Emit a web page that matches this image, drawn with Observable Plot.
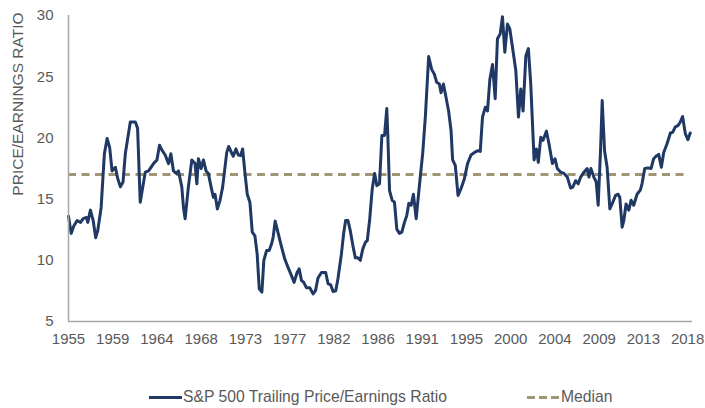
<!DOCTYPE html>
<html>
<head>
<meta charset="utf-8">
<script src="https://cdn.jsdelivr.net/npm/d3@7"></script>
<script src="https://cdn.jsdelivr.net/npm/@observablehq/plot@0.6"></script>
<style>
  html, body { margin: 0; padding: 0; background: #fff; }
  #wrap { position: relative; width: 705px; height: 408px; font-family: "Liberation Sans", Arial, sans-serif; color: #595959; }
  #legend { position: absolute; left: 0; top: 386px; width: 705px; height: 22px; font-size: 15.7px; }
  .item { position: absolute; top: 0; display: flex; align-items: center; height: 22px; }
  .sw { width: 33px; height: 3px; margin-right: 1px; }
</style>
</head>
<body>
<div id="wrap">
  <div id="chart"></div>
  <div id="legend">
    <div class="item" style="left:149px"><svg class="sw" width="33" height="3"><line x1="0" y1="1.5" x2="33" y2="1.5" stroke="#1F3864" stroke-width="3"/></svg><span>S&amp;P 500 Trailing Price/Earnings Ratio</span></div>
    <div class="item" style="left:527px"><svg class="sw" width="33" height="3"><line x1="0" y1="1.5" x2="33" y2="1.5" stroke="#A09574" stroke-width="3" stroke-dasharray="8,4"/></svg><span>Median</span></div>
  </div>
</div>
<script>
const years = [1955.0,1955.27,1955.54,1955.88,1956.22,1956.49,1956.83,1956.96,1957.23,1957.51,1957.77,1957.97,1958.32,1958.65,1958.93,1959.19,1959.43,1959.77,1960.0,1960.28,1960.55,1960.78,1961.29,1961.8,1962.03,1962.3,1962.58,1962.81,1963.15,1963.65,1964.0,1964.26,1964.51,1964.84,1965.18,1965.42,1965.68,1965.96,1966.19,1966.53,1966.7,1966.87,1967.2,1967.55,1967.88,1968.06,1968.22,1968.49,1968.73,1969.0,1969.23,1969.51,1969.74,1969.91,1970.15,1970.42,1970.69,1971.1,1971.3,1971.61,1971.77,1972.04,1972.28,1972.52,1972.72,1972.96,1973.19,1973.46,1973.7,1973.97,1974.2,1974.41,1974.68,1974.88,1975.16,1975.42,1975.67,1975.83,1976.03,1976.34,1976.68,1977.01,1977.35,1977.69,1977.96,1978.26,1978.47,1978.71,1978.94,1979.22,1979.55,1979.89,1980.13,1980.39,1980.74,1981.17,1981.41,1981.68,1981.92,1982.19,1982.42,1982.77,1983.0,1983.2,1983.44,1983.68,1983.94,1984.19,1984.45,1984.69,1984.96,1985.23,1985.4,1985.64,1985.91,1986.15,1986.38,1986.65,1986.89,1987.16,1987.39,1987.49,1987.67,1987.94,1988.17,1988.41,1988.68,1988.92,1989.19,1989.42,1989.63,1989.87,1990.1,1990.38,1990.71,1991.05,1991.32,1991.65,1991.96,1992.23,1992.47,1992.74,1992.91,1993.15,1993.42,1993.68,1993.93,1994.09,1994.36,1994.64,1994.94,1995.28,1995.61,1995.96,1996.29,1996.62,1996.9,1997.13,1997.41,1997.64,1997.88,1998.15,1998.42,1998.65,1998.93,1999.16,1999.4,1999.67,1999.91,2000.18,2000.52,2000.79,2001.03,2001.26,2001.54,2001.8,2002.04,2002.38,2002.61,2002.81,2003.06,2003.29,2003.63,2003.9,2004.24,2004.51,2004.74,2005.09,2005.42,2005.76,2006.1,2006.33,2006.61,2006.87,2007.12,2007.45,2007.78,2007.96,2008.16,2008.46,2008.7,2008.9,2009.14,2009.31,2009.55,2009.81,2010.09,2010.32,2010.67,2010.93,2011.1,2011.34,2011.51,2011.74,2012.02,2012.25,2012.52,2012.86,2013.2,2013.36,2013.64,2013.97,2014.28,2014.55,2014.78,2015.06,2015.33,2015.57,2015.9,2016.25,2016.48,2016.75,2017.02,2017.26,2017.49,2017.77,2018.03,2018.27];
const peRatio = [13.6,12.2,12.8,13.25,13.1,13.4,13.5,13.1,14.1,13.25,11.85,12.4,14.3,18.7,19.95,19.2,17.3,17.6,16.7,16.0,16.4,18.7,21.3,21.3,20.8,14.75,16.1,17.2,17.3,17.9,18.2,19.4,19.0,18.6,17.9,18.7,17.3,17.1,17.3,16.0,14.3,13.4,16.0,18.2,17.9,16.25,18.3,17.5,18.2,17.3,17.1,16.0,15.15,15.4,14.2,14.9,16.0,18.8,19.3,18.75,18.5,19.1,18.6,18.55,19.1,17.1,15.4,14.75,12.3,12.0,10.5,7.67,7.4,10.0,10.8,10.8,11.35,11.9,13.2,12.2,11.1,10.1,9.4,8.75,8.2,9.0,9.3,8.35,8.2,7.75,7.75,7.26,7.5,8.55,9.0,9.0,8.1,8.0,7.45,7.5,8.5,10.5,12.2,13.25,13.25,12.4,11.2,10.2,10.2,10.0,10.95,11.5,11.6,13.25,15.85,17.1,16.1,16.25,20.2,20.2,22.4,20.3,15.7,14.9,14.75,12.55,12.2,12.3,13.1,13.65,14.65,14.5,15.4,13.4,16.1,18.8,21.8,26.65,25.6,25.2,24.55,24.4,23.7,24.4,23.3,22.2,20.6,18.2,17.75,15.3,15.85,16.65,17.9,18.6,18.8,18.95,18.9,21.7,22.5,22.2,24.8,26.0,23.2,28.1,28.5,29.9,27.0,29.3,28.9,27.4,25.5,21.7,24.0,22.2,26.7,27.3,24.4,18.2,19.1,18.0,20.05,19.8,20.55,19.5,17.9,18.3,17.5,17.2,17.1,16.8,15.9,16.0,16.5,16.25,16.8,17.2,17.5,16.8,17.5,16.8,16.4,14.5,18.95,23.05,18.95,17.6,14.2,14.6,15.3,15.4,15.15,12.7,13.25,14.6,14.1,14.9,14.5,15.4,15.75,16.25,17.5,17.55,17.5,18.3,18.5,18.65,17.6,18.8,19.5,20.4,20.45,20.9,21.0,21.3,21.75,20.35,19.85,20.4];
const medianPE = 17;
const xTicks = [1955,1959.5,1964,1968.5,1973,1977.5,1982,1986.5,1991,1995.5,2000,2004.5,2009,2013.5,2018];
const yTicks = [5,10,15,20,25,30];
const yTitle = "PRICE/EARNINGS RATIO";
const xDomain = [1955, 2018.5];

const data = years.map((t, i) => ({t, v: peRatio[i]}));

const chart = Plot.plot({
  width: 705,
  height: 360,
  marginLeft: 68,
  marginRight: 13,
  marginTop: 15,
  marginBottom: 39,
  style: {fontFamily: '"Liberation Sans", Arial, sans-serif', fontSize: "15px", color: "#595959", background: "#fff"},
  x: {domain: xDomain},
  y: {domain: [5, 30]},
  marks: [
    Plot.axisX({ticks: xTicks, tickFormat: d => String(Math.floor(d)), tickSize: 0, tickPadding: 12, label: null, fill: "#595959"}),
    Plot.axisY({ticks: yTicks, tickSize: 0, tickPadding: 15, label: null, fill: "#595959"}),
    Plot.ruleY([medianPE], {x1: xDomain[0], x2: 2018.15, stroke: "#A09574", strokeWidth: 3, strokeDasharray: "8,5.5"}),
    Plot.line(data, {x: "t", y: "v", stroke: "#203864", strokeWidth: 3, strokeLinejoin: "round", strokeLinecap: "round"}),
    Plot.ruleY([5], {stroke: "#A6A6A6", strokeWidth: 1.5}),
    Plot.ruleX([xDomain[0]], {stroke: "#A6A6A6", strokeWidth: 1.5}),
    Plot.text([yTitle], {frameAnchor: "top-left", text: d => d, rotate: -90, textAnchor: "end", lineAnchor: "middle", dx: -50, dy: -3, fill: "#595959", fontSize: 15.5})
  ]
});
document.getElementById("chart").appendChild(chart);
</script>
</body>
</html>
